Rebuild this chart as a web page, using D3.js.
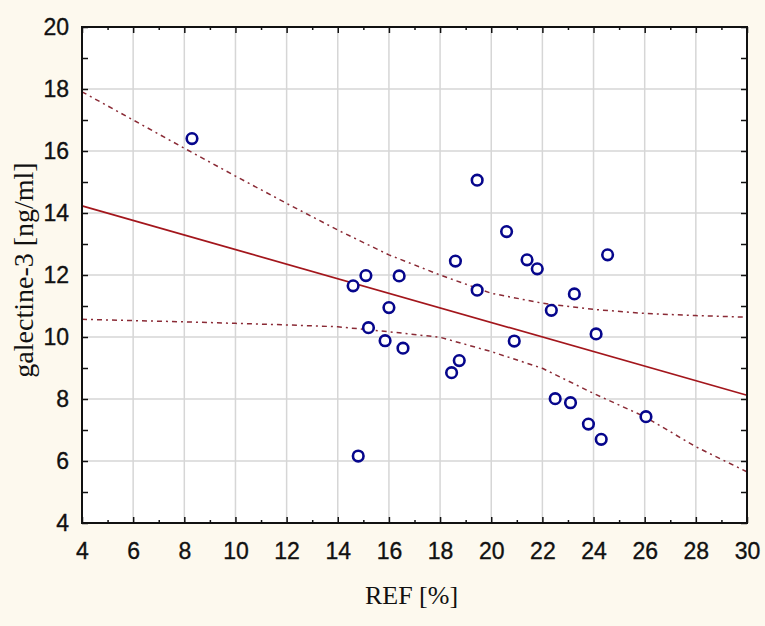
<!DOCTYPE html>
<html>
<head>
<meta charset="utf-8">
<script src="https://cdn.jsdelivr.net/npm/d3@7"></script>
<style>
  html, body { margin: 0; padding: 0; background: #fdf9ee; }
  svg { display: block; }
</style>
</head>
<body>
<div id="chart"></div>
<script>
// -------------------- DATA --------------------

// REF [%]
const refValues = [8.3, 14.6, 15.1, 16.0, 16.4, 15.2, 15.85, 16.55, 14.8,
    18.6, 19.45, 19.45, 18.75, 18.45, 20.6, 21.4, 21.8, 20.9, 22.35,
    23.25, 24.55, 24.1, 22.5, 23.1, 23.8, 24.3, 26.05];
// galectine-3 [ng/ml]
const galValues = [16.4, 11.65, 11.98, 10.95, 11.97, 10.3, 9.88, 9.64, 6.16,
    12.45, 11.51, 15.06, 9.24, 8.85, 13.4, 12.49, 12.2, 9.87, 10.86,
    11.39, 12.65, 10.1, 8.01, 7.88, 7.19, 6.7, 7.43];

// regression line at both ends
const fitX = [4, 30];
const fitY = [14.23, 8.12];

// confidence band
const bandX = [4, 6, 8, 10, 12, 14, 16, 18, 20, 22, 24, 26, 28, 30];
const bandUpper = [17.91, 17.0, 16.09, 15.19, 14.31, 13.45, 12.65, 12.0, 11.41, 11.09, 10.89, 10.76, 10.69, 10.64];
const bandLower = [10.57, 10.53, 10.49, 10.44, 10.39, 10.33, 10.17, 9.99, 9.53, 8.99, 8.18, 7.43, 6.46, 5.65];

const xTicks = d3.range(4, 31, 2);
const yTicks = d3.range(4, 21, 2);

// -------------------- VISUALIZATION --------------------

const width = 765, height = 626;
const margin = { top: 27, right: 18, bottom: 103, left: 82 };

const svg = d3.select("#chart")
    .append("svg")
    .attr("width", width)
    .attr("height", height);

const x = d3.scaleLinear().domain([4, 30]).range([margin.left, width - margin.right]);
const y = d3.scaleLinear().domain([4, 20]).range([height - margin.bottom, margin.top]);

// plot background
svg.append("rect")
    .attr("x", x(4)).attr("y", y(20))
    .attr("width", x(30) - x(4)).attr("height", y(4) - y(20))
    .attr("fill", "white");

// grid
let grid = svg.append("g").attr("stroke", "#d6d6d6").attr("stroke-width", 1.5);
grid.selectAll(".gx").data(xTicks.slice(1, -1)).join("line")
    .attr("x1", d => x(d)).attr("x2", d => x(d))
    .attr("y1", y(20)).attr("y2", y(4));
grid.selectAll(".gy").data(yTicks.slice(1, -1)).join("line")
    .attr("y1", d => y(d)).attr("y2", d => y(d))
    .attr("x1", x(4)).attr("x2", x(30));

// confidence band
const bandLine = (vals) => d3.line().x((d, i) => x(bandX[i])).y(d => y(d))(vals);
svg.append("g")
    .attr("fill", "none")
    .attr("stroke", "#8a2a35")
    .attr("stroke-width", 1.5)
    .attr("stroke-dasharray", "5,4,2,4")
    .selectAll("path")
    .data([bandUpper, bandLower])
    .join("path")
    .attr("d", d => bandLine(d));

// regression line
svg.append("path")
    .attr("fill", "none")
    .attr("stroke", "#a3161c")
    .attr("stroke-width", 1.7)
    .attr("d", d3.line().x((d, i) => x(fitX[i])).y(d => y(d))(fitY));

// points
svg.append("g")
    .attr("fill", "white")
    .attr("stroke", "#06068c")
    .attr("stroke-width", 2.6)
    .selectAll("circle")
    .data(refValues)
    .join("circle")
    .attr("cx", d => x(d))
    .attr("cy", (d, i) => y(galValues[i]))
    .attr("r", 5.3);

// axes
const styleLabels = g => g.selectAll("text")
    .style("font-family", "Arial, 'Liberation Sans', sans-serif")
    .style("font-size", "23px")
    .style("fill", "#111")
    .style("stroke", "#111")
    .style("stroke-width", "0.35px");

let xAxis = g => g
    .attr("transform", `translate(0,${y(4)})`)
    .call(d3.axisBottom(x).tickValues(xTicks).tickFormat(d3.format("d")).tickSize(-6).tickPadding(20))
    .call(g => g.select(".domain").remove())
    .call(styleLabels);

let yAxis = g => g
    .attr("transform", `translate(${x(4)},0)`)
    .call(d3.axisLeft(y).tickValues(yTicks).tickFormat(d3.format("d")).tickSize(-6).tickPadding(13))
    .call(g => g.select(".domain").remove())
    .call(styleLabels);

svg.append("g").call(xAxis);
svg.append("g").call(yAxis);

// minor ticks and ticks on the opposite sides
const xMinor = d3.range(5, 30, 2);
const yMinor = d3.range(5, 20, 2);
const noLabel = () => "";
svg.append("g").attr("transform", `translate(0,${y(4)})`)
    .call(d3.axisBottom(x).tickValues(xMinor).tickFormat(noLabel).tickSize(-3))
    .call(g => g.select(".domain").remove());
svg.append("g").attr("transform", `translate(0,${y(20)})`)
    .call(d3.axisTop(x).tickValues(xTicks).tickFormat(noLabel).tickSize(-6))
    .call(g => g.select(".domain").remove());
svg.append("g").attr("transform", `translate(0,${y(20)})`)
    .call(d3.axisTop(x).tickValues(xMinor).tickFormat(noLabel).tickSize(-3))
    .call(g => g.select(".domain").remove());
svg.append("g").attr("transform", `translate(${x(4)},0)`)
    .call(d3.axisLeft(y).tickValues(yMinor).tickFormat(noLabel).tickSize(-6))
    .call(g => g.select(".domain").remove());
svg.append("g").attr("transform", `translate(${x(30)},0)`)
    .call(d3.axisRight(y).tickValues(yTicks).tickFormat(noLabel).tickSize(-6))
    .call(g => g.select(".domain").remove());
svg.append("g").attr("transform", `translate(${x(30)},0)`)
    .call(d3.axisRight(y).tickValues(yMinor).tickFormat(noLabel).tickSize(-6))
    .call(g => g.select(".domain").remove());
svg.selectAll(".tick line").attr("stroke", "#111").attr("stroke-width", 1.5);

// frame
svg.append("rect")
    .attr("x", x(4)).attr("y", y(20))
    .attr("width", x(30) - x(4)).attr("height", y(4) - y(20))
    .attr("fill", "none")
    .attr("stroke", "#111")
    .attr("stroke-width", 2);

// titles
svg.append("text")
    .attr("x", (x(4) + x(30)) / 2 - 3)
    .attr("y", 604)
    .attr("text-anchor", "middle")
    .attr("font-family", "Liberation Serif, Times New Roman, serif")
    .attr("font-size", 26)
    .attr("fill", "#111")
    .text("REF [%]");

svg.append("text")
    .attr("transform", `translate(33,${270}) rotate(-90)`)
    .attr("text-anchor", "middle")
    .attr("font-family", "Liberation Serif, Times New Roman, serif")
    .attr("font-size", 28)
    .attr("fill", "#111")
    .text("galectine-3 [ng/ml]");
</script>
</body>
</html>
